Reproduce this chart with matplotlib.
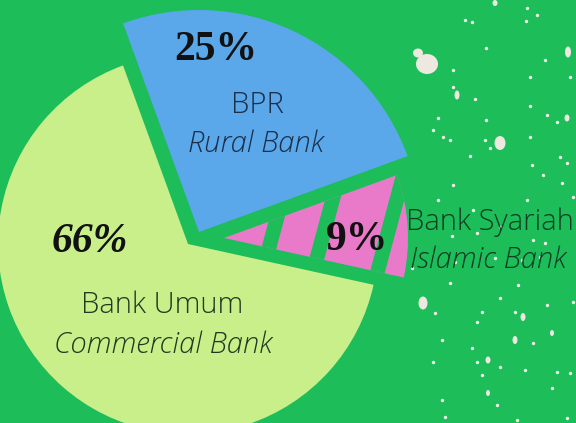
import numpy as np
import matplotlib
matplotlib.use("Agg")
import matplotlib.pyplot as plt
from matplotlib.patches import Wedge, Ellipse

# data
segments = ["Bank Umum", "Bank Syariah", "BPR"]          # counter-clockwise order
segments_en = ["Commercial Bank", "Islamic Bank", "Rural Bank"]
shares = [66, 9, 25]

W, H = 576, 423
BG = "#1dbd5a"
colors = ["#c8ef8a", "#e87ac9", "#5aa7ea"]
radius = [190, 184, 222]
# wedge apex in picture pixels (x, y from top)
apex = [(188, 244), (224, 238), (199, 232)]
start = 110

fig = plt.figure(figsize=(5.76, 4.23), dpi=100)
fig.patch.set_facecolor(BG)
ax = fig.add_axes([0, 0, 1, 1])
ax.set_facecolor(BG)
ax.set_xlim(0, W)
ax.set_ylim(0, H)
ax.set_aspect("equal")
ax.axis("off")

def Y(y):
    return H - y

edges = start + np.concatenate([[0], np.cumsum(shares)]) * 3.6
wedges = []
for i in range(len(shares)):
    cx, cy = apex[i]
    w = Wedge((cx, Y(cy)), radius[i], edges[i], edges[i + 1],
              facecolor=colors[i], edgecolor="none", zorder=2)
    ax.add_patch(w)
    wedges.append(w)

# green stripes through the small slice
ang = np.deg2rad(75)
d = np.array([np.cos(ang), np.sin(ang)])
n = np.array([np.sin(ang), -np.cos(ang)])
px, py = apex[1]
p0 = np.array([px, Y(py)])
for s in [46, 95, 157]:
    c = p0 + s * n
    a, b = c - 300 * d, c + 300 * d
    ln, = ax.plot([a[0], b[0]], [a[1], b[1]], color=BG, lw=10.5,
                  solid_capstyle="butt", zorder=3)
    ln.set_clip_path(wedges[1])

# speckles on the right
sx = [495, 527, 537, 526, 465, 472, 486, 545, 453, 570, 530, 453, 475, 530,
      547, 557, 438, 433, 486, 443, 450, 485, 530, 470, 490, 532, 560, 567,
      543, 562, 573, 453, 438, 527, 477, 500, 533, 545, 495, 522, 540, 450,
      518, 435, 482, 500, 515, 547, 573, 477, 442, 533, 472, 477, 433, 525,
      500, 557, 482, 570, 552, 442, 497, 445, 567, 517, 473, 412, 455, 452]
sy = [3, 8, 15, 21, 20, 22, 48, 60, 70, 77, 77, 87, 99, 106,
      115, 122, 118, 130, 120, 137, 140, 140, 137, 156, 148, 165, 157, 163,
      175, 183, 197, 185, 200, 200, 233, 227, 240, 243, 258, 260, 257, 283,
      285, 313, 312, 298, 312, 305, 302, 322, 340, 343, 348, 362, 362, 370,
      367, 372, 375, 373, 388, 400, 405, 417, 418, 420, 210, 268, 262, 236]
ax.scatter(sx, [Y(v) for v in sy], s=6, color="#eef0e6", linewidths=0, zorder=1)
blobs = [(427, 64, 22, 20), (418, 53, 10, 9), (500, 143, 11, 14),
         (423, 303, 9, 13), (568, 52, 6, 11), (457, 95, 5, 9),
         (523, 317, 5, 8), (515, 340, 5, 8), (488, 360, 5, 7), (567, 118, 5, 7),
         (552, 333, 4, 6), (488, 393, 4, 6), (495, 3, 5, 6)]
for bx, by, bw, bh in blobs:
    ax.add_patch(Ellipse((bx, Y(by)), bw, bh, facecolor="#eee9e0",
                         edgecolor="none", zorder=1))

# labels
pct_font = dict(family=["Liberation Serif", "DejaVu Serif"], weight="bold",
                size=30, color="#111111", zorder=5)
lab_font = dict(family=["Open Sans", "DejaVu Sans"], weight="light",
                size=21, zorder=5)

ax.text(216, Y(60), f"{shares[2]}%", ha="center", va="baseline", **pct_font)
ax.text(90, Y(252), f"{shares[0]}%", ha="center", va="baseline",
        style="italic", **pct_font)
ax.text(357, Y(250), f"{shares[1]}%", ha="center", va="baseline", **pct_font)

ax.text(257, Y(113), segments[2], ha="center", va="baseline",
        color="#1c2f4a", **lab_font)
ax.text(256, Y(152), segments_en[2], ha="center", va="baseline",
        color="#1c2f4a", style="italic", **lab_font)
ax.text(162, Y(313), segments[0], ha="center", va="baseline",
        color="#1f3a1f", **lab_font)
ax.text(163, Y(353), segments_en[0], ha="center", va="baseline",
        color="#1f3a1f", style="italic", **lab_font)
ax.text(406, Y(230), segments[1], ha="left", va="baseline",
        color="#113d22", **lab_font)
ax.text(410, Y(268), segments_en[1], ha="left", va="baseline",
        color="#113d22", style="italic", **lab_font)

fig.savefig("out.png", dpi=100, facecolor=BG)
